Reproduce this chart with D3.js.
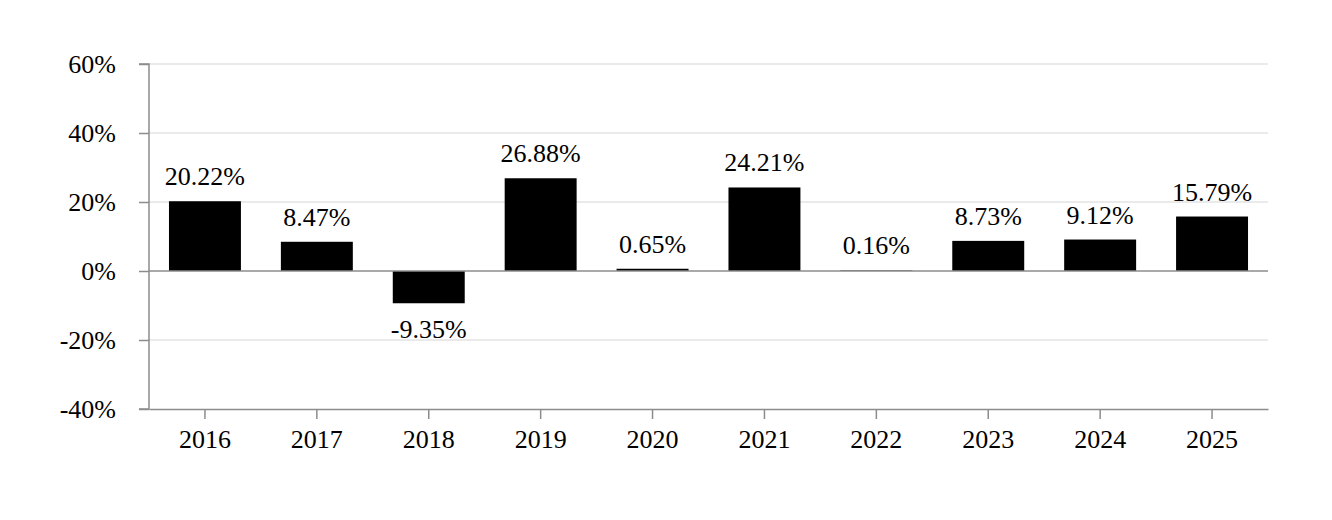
<!DOCTYPE html>
<html>
<head>
<meta charset="utf-8">
<script src="https://cdn.jsdelivr.net/npm/d3@7"></script>
<style>
  body { margin: 0; background: #fff; }
  text { font-family: "Liberation Serif", "Times New Roman", serif; fill: #000; }
</style>
</head>
<body>
<script>
// data
var years = ["2016", "2017", "2018", "2019", "2020", "2021", "2022", "2023", "2024", "2025"];
var returns = [20.22, 8.47, -9.35, 26.88, 0.65, 24.21, 0.16, 8.73, 9.12, 15.79];
var yTicks = [-40, -20, 0, 20, 40, 60];

var W = 1332, H = 520;
var margin = {top: 64, right: 64, bottom: 111, left: 149},
    width = W - margin.left - margin.right,
    height = H - margin.top - margin.bottom;

var svg = d3.select("body").append("svg")
    .attr("width", W)
    .attr("height", H);

var g = svg.append("g")
    .attr("transform", "translate(" + margin.left + "," + margin.top + ")");

var x = d3.scaleBand()
    .domain(years)
    .range([0, width])
    .paddingInner(0.357)
    .paddingOuter(0.1785);

var y = d3.scaleLinear()
    .domain([-40, 60])
    .range([height, 0]);

// gridlines
g.selectAll(".grid")
    .data(yTicks.filter(function(d) { return d !== 0 && d !== -40; }))
  .enter().append("line")
    .attr("x1", 0).attr("x2", width)
    .attr("y1", function(d) { return y(d); })
    .attr("y2", function(d) { return y(d); })
    .attr("stroke", "#e3e3e3")
    .attr("stroke-width", 1.5);

// bars
g.selectAll(".bar")
    .data(returns)
  .enter().append("rect")
    .attr("x", function(d, i) { return x(years[i]); })
    .attr("width", x.bandwidth())
    .attr("y", function(d) { return y(Math.max(0, d)); })
    .attr("height", function(d) { return Math.abs(y(d) - y(0)); })
    .attr("fill", "#000");

// zero line
g.append("line")
    .attr("x1", 0).attr("x2", width)
    .attr("y1", y(0)).attr("y2", y(0))
    .attr("stroke", "#8c8c8c")
    .attr("stroke-width", 1.5);

// y axis
var yAxis = g.append("g")
    .call(d3.axisLeft(y).tickValues(yTicks).tickSize(10).tickPadding(23)
      .tickFormat(function(d) { return d + "%"; }));

// x axis
var xAxis = g.append("g")
    .attr("transform", "translate(0," + height + ")")
    .call(d3.axisBottom(x).tickSize(10).tickSizeOuter(0).tickPadding(11));

[yAxis, xAxis].forEach(function(a) {
  a.select(".domain").attr("stroke", "#8c8c8c").attr("stroke-width", 1.5);
  a.selectAll(".tick line").attr("stroke", "#8c8c8c").attr("stroke-width", 1.5);
  a.selectAll("text").style("font-family", "Liberation Serif, Times New Roman, serif")
    .style("font-size", "26px").attr("fill", "#000");
});
yAxis.select(".domain").attr("d", "M-10," + height + "H0V0H-10");

// value labels
g.selectAll(".lbl")
    .data(returns)
  .enter().append("text")
    .attr("x", function(d, i) { return x(years[i]) + x.bandwidth() / 2; })
    .attr("y", function(d) { return d >= 0 ? y(d) - 16 : y(d) + 35; })
    .attr("text-anchor", "middle")
    .style("font-size", "26px")
    .text(function(d) { return d.toFixed(2) + "%"; });
</script>
</body>
</html>
